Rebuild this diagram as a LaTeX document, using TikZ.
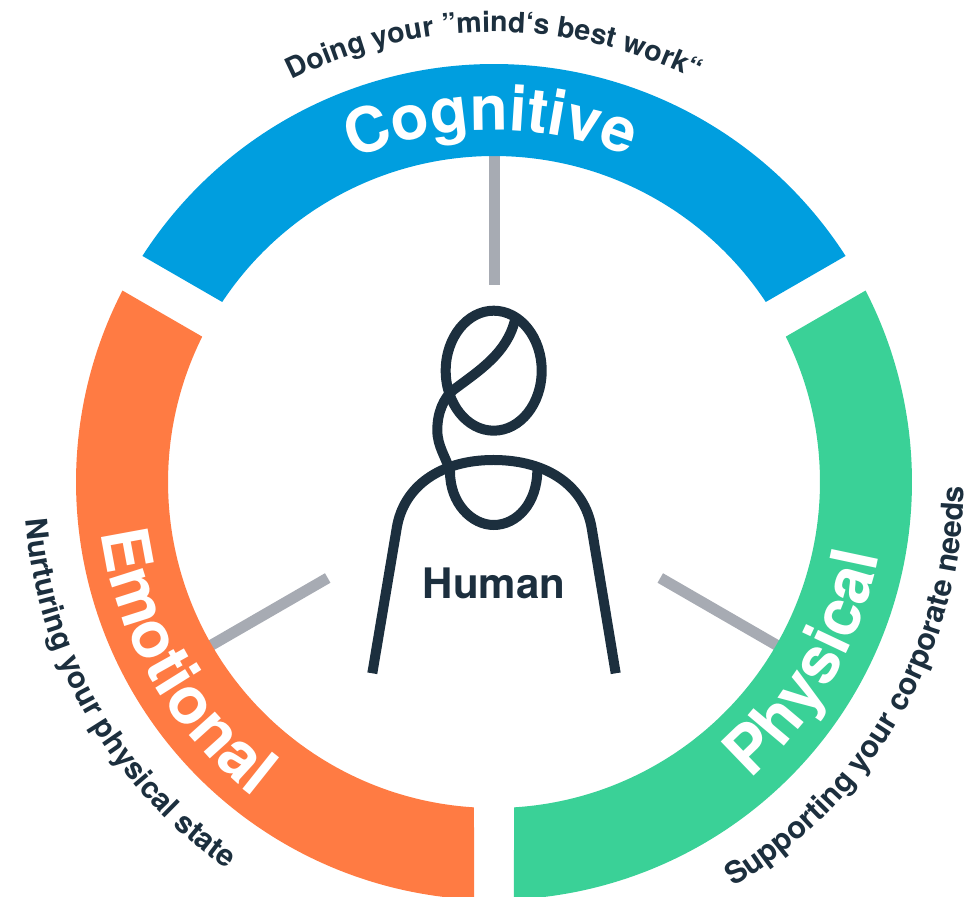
\documentclass[tikz,border=0pt]{standalone}
\usepackage{fontspec}
\usetikzlibrary{decorations.text}
\newfontfamily\labelfont{TeX Gyre Heros}
\definecolor{cogblue}{HTML}{009EDF}
\definecolor{emoorange}{HTML}{FF7B43}
\definecolor{phygreen}{HTML}{3AD197}
\definecolor{inkdark}{HTML}{1C2F3E}
\definecolor{spokegray}{HTML}{A7ABB3}
\newcommand{\ringtext}[1]{\color{white}\labelfont\bfseries\fontsize{#1pt}{#1pt}\selectfont}
\newcommand{\sidetext}[1]{\color{inkdark}\labelfont\bfseries\fontsize{#1pt}{#1pt}\selectfont}
\tikzset{
	spoke/.style={draw=spokegray, line width=11pt},
	figure/.style={draw=inkdark, line width=10pt},
	curved/.style={decorate, decoration={text along path, text align=center, text={#1}}}
}
\begin{document}
\begin{tikzpicture}[x=1pt, y=1pt]
	\useasboundingbox (0,0) rectangle (970,897);
	\clip (0,0) rectangle (970,897);
	\begin{scope}[shift={(494,415)}]
	\coordinate (cogin) at (90:330);
	\coordinate (cogout) at (90:197);
	\coordinate (emoin) at (210:330);
	\coordinate (emoout) at (210:192);
	\coordinate (phyin) at (330:330);
	\coordinate (phyout) at (330:192);
	\draw[spoke] (cogin) -- (cogout);
	\draw[spoke] (emoin) -- (emoout);
	\draw[spoke] (phyin) -- (phyout);
	\foreach \col/\a in {cogblue/30, emoorange/150, phygreen/270}
		\fill[\col] (\a+2.74:418) arc[start angle=\a+2.74, end angle=\a+117.26, radius=418]
		-- (\a+116.48:326) arc[start angle=\a+116.48, end angle=\a+3.52, radius=326] -- cycle;
	\path[curved={|\ringtext{62}|Cognitive}] (150.5:352) arc[start angle=150.5, end angle=30.5, radius=352];
	\path[curved={|\ringtext{65}|Emotional}] (150:396) arc[start angle=150, end angle=270, radius=396];
	\path[curved={|\ringtext{65}|Physical}] (-90:392) arc[start angle=-90, end angle=30, radius=392];
	\path[curved={|\sidetext{28.5}|Doing your ”mind‘s best work“}] (150:450) arc[start angle=150, end angle=30, radius=450];
	\path[curved={|\sidetext{30}|Nurturing your physical state}] (150:470) arc[start angle=150, end angle=270, radius=470];
	\path[curved={|\sidetext{30.5}|Supporting your corporate needs}] (-90:470) arc[start angle=-90, end angle=30, radius=470];
	\end{scope}
	\draw[figure] (493.7,526.3) ellipse[x radius=48, y radius=60];
	\draw[figure] (515,577) .. controls (506.7,543.7) and (480,527) .. (453.3,507)
	.. controls (443.3,498.7) and (437.3,483.7) .. (437.3,467)
	.. controls (437.3,450.3) and (446,440.3) .. (450,425.3)
	.. controls (450,393.7) and (471.7,372) .. (493.7,372)
	.. controls (516.7,372) and (537.3,393.7) .. (537.3,427);
	\draw[figure] (372.3,223.7) -- (396.7,368.7)
	.. controls (403.3,410.3) and (440,437) .. (493.3,437)
	.. controls (548,437) and (584.7,410.3) .. (591.7,368.7) -- (615.7,223.7);
	\node[text=inkdark, font=\labelfont\bfseries\fontsize{42pt}{42pt}\selectfont] (human) at (494,314) {Human};
\end{tikzpicture}
\end{document}
